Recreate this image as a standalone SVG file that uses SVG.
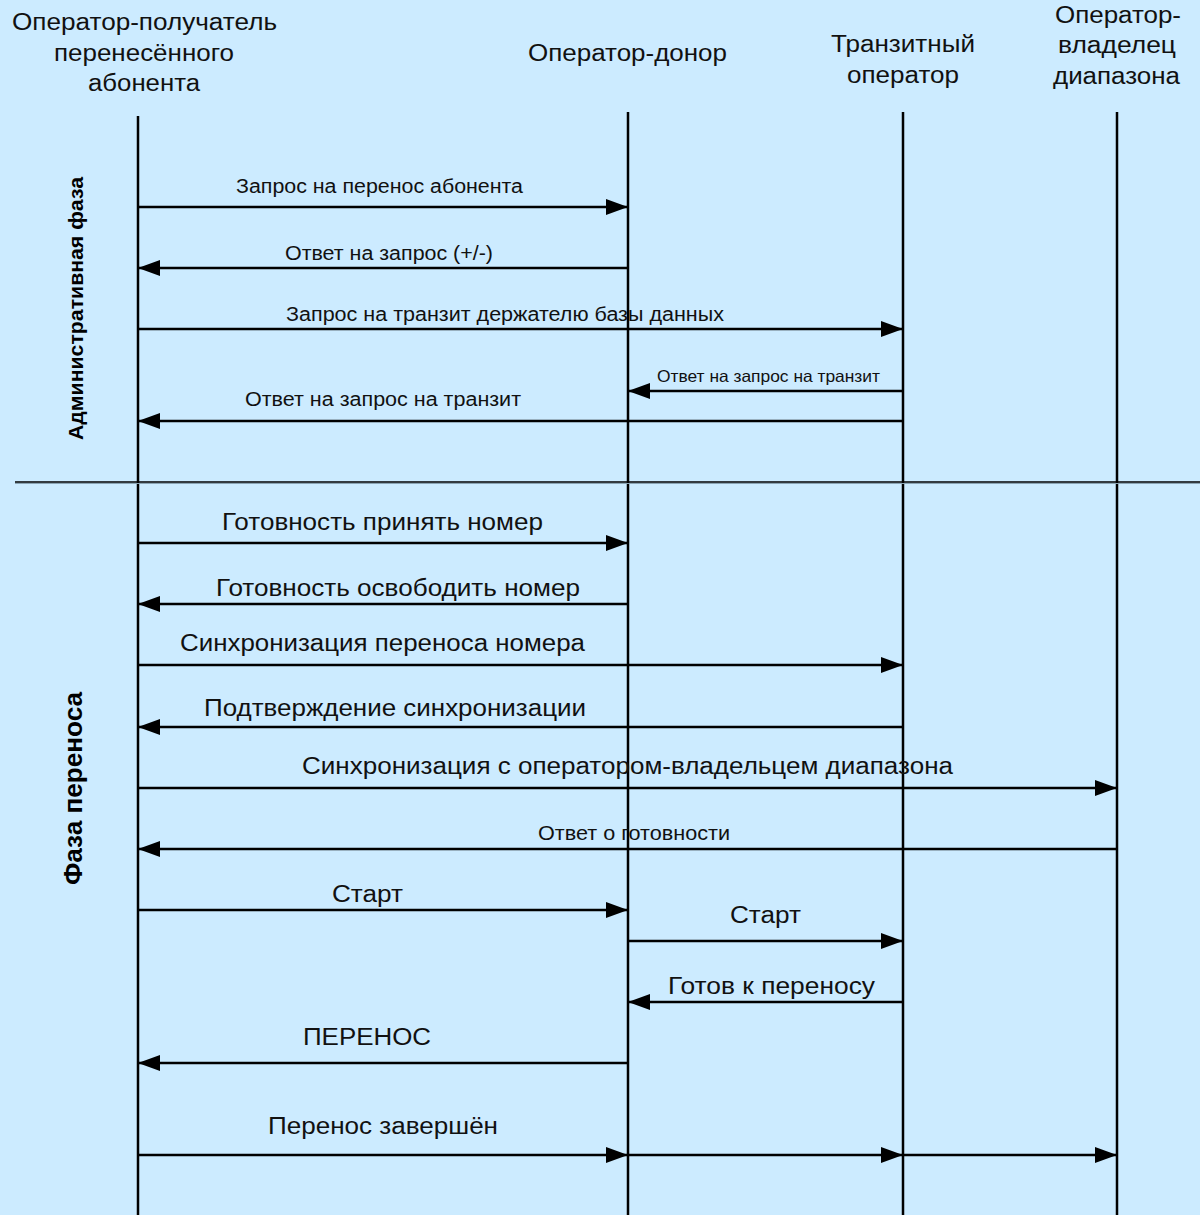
<svg xmlns="http://www.w3.org/2000/svg" width="1200" height="1215" viewBox="0 0 1200 1215">
  <style>
    text { font-family: "Liberation Sans", Arial, sans-serif; fill: #111; text-anchor: middle; }
    .hdr { font-size: 23px; }
    .msg { font-size: 19.5px; }
    .msg-l { font-size: 23.5px; }
    .msg-s { font-size: 16.5px; }
    .phase { font-weight: bold; fill: #000; }
    .life { stroke: #000; stroke-width: 2.5; fill: none; }
    .arrow { stroke: #000; stroke-width: 2.5; fill: none; marker-end: url(#head); }
  </style>
  <defs>
    <marker id="head" markerUnits="userSpaceOnUse" markerWidth="24" markerHeight="18" refX="22" refY="8" orient="auto">
      <path d="M0,0 L22,8 L0,16 z" fill="#000"/>
    </marker>
  </defs>

  <rect x="0" y="0" width="1200" height="1215" fill="#CCEBFF"/>

  <!-- participants with their lifelines -->
  <g id="recipient">
    <text class="hdr" x="144.5" y="30" textLength="265" lengthAdjust="spacingAndGlyphs">Оператор-получатель</text>
    <text class="hdr" x="144" y="61" textLength="180" lengthAdjust="spacingAndGlyphs">перенесённого</text>
    <text class="hdr" x="144" y="91" textLength="112" lengthAdjust="spacingAndGlyphs">абонента</text>
    <line class="life" x1="138" y1="116" x2="138" y2="1215"/>
  </g>
  <g id="donor">
    <text class="hdr" x="627.5" y="61" textLength="199" lengthAdjust="spacingAndGlyphs">Оператор-донор</text>
    <line class="life" x1="628" y1="112" x2="628" y2="1215"/>
  </g>
  <g id="transit">
    <text class="hdr" x="903" y="52" textLength="144" lengthAdjust="spacingAndGlyphs">Транзитный</text>
    <text class="hdr" x="903" y="83" textLength="112" lengthAdjust="spacingAndGlyphs">оператор</text>
    <line class="life" x1="903" y1="112" x2="903" y2="1215"/>
  </g>
  <g id="range-owner">
    <text class="hdr" x="1118" y="23" textLength="126" lengthAdjust="spacingAndGlyphs">Оператор-</text>
    <text class="hdr" x="1117" y="53" textLength="118" lengthAdjust="spacingAndGlyphs">владелец</text>
    <text class="hdr" x="1116.5" y="84" textLength="127" lengthAdjust="spacingAndGlyphs">диапазона</text>
    <line class="life" x1="1117" y1="112" x2="1117" y2="1215"/>
  </g>

  <!-- phase captions and the line between the phases -->
  <g id="phase-admin">
    <text class="phase" font-size="20" transform="translate(83,308.5) rotate(-90)" textLength="263" lengthAdjust="spacingAndGlyphs">Административная фаза</text>
  </g>
  <g id="phase-port">
    <text class="phase" font-size="26" transform="translate(82,788.5) rotate(-90)" textLength="193" lengthAdjust="spacingAndGlyphs">Фаза переноса</text>
  </g>
  <g id="divider">
    <line x1="15" y1="483.5" x2="1200" y2="483.5" stroke="#8aa4b4" stroke-width="1.2"/>
    <line x1="15" y1="482" x2="1200" y2="482" stroke="#000" stroke-width="1.3"/>
  </g>

  <!-- messages -->
  <g id="connectors">
    <line class="arrow" x1="138" y1="207" x2="628" y2="207"/>
    <line class="arrow" x1="628" y1="268" x2="138" y2="268"/>
    <line class="arrow" x1="138" y1="329" x2="903" y2="329"/>
    <line class="arrow" x1="903" y1="391" x2="628" y2="391"/>
    <line class="arrow" x1="903" y1="421" x2="138" y2="421"/>
    <line class="arrow" x1="138" y1="543" x2="628" y2="543"/>
    <line class="arrow" x1="628" y1="604" x2="138" y2="604"/>
    <line class="arrow" x1="138" y1="665" x2="903" y2="665"/>
    <line class="arrow" x1="903" y1="727" x2="138" y2="727"/>
    <line class="arrow" x1="138" y1="788" x2="1117" y2="788"/>
    <line class="arrow" x1="1117" y1="849" x2="138" y2="849"/>
    <line class="arrow" x1="138" y1="910" x2="628" y2="910"/>
    <line class="arrow" x1="628" y1="941" x2="903" y2="941"/>
    <line class="arrow" x1="903" y1="1002" x2="628" y2="1002"/>
    <line class="arrow" x1="628" y1="1063" x2="138" y2="1063"/>
    <line class="arrow" x1="138" y1="1155" x2="628" y2="1155"/>
    <line class="arrow" x1="628" y1="1155" x2="903" y2="1155"/>
    <line class="arrow" x1="903" y1="1155" x2="1117" y2="1155"/>
  </g>

  <g id="labels">
    <text class="msg" x="379.5" y="192.5" textLength="287" lengthAdjust="spacingAndGlyphs">Запрос на перенос абонента</text>
    <text class="msg" x="389" y="260" textLength="208" lengthAdjust="spacingAndGlyphs">Ответ на запрос (+/-)</text>
    <text class="msg" x="505" y="321" textLength="438" lengthAdjust="spacingAndGlyphs">Запрос на транзит держателю базы данных</text>
    <text class="msg-s" x="768.5" y="382" textLength="223" lengthAdjust="spacingAndGlyphs">Ответ на запрос на транзит</text>
    <text class="msg" x="383" y="406" textLength="276" lengthAdjust="spacingAndGlyphs">Ответ на запрос на транзит</text>
    <text class="msg-l" x="382.5" y="530" textLength="321" lengthAdjust="spacingAndGlyphs">Готовность принять номер</text>
    <text class="msg-l" x="398" y="596" textLength="364" lengthAdjust="spacingAndGlyphs">Готовность освободить номер</text>
    <text class="msg-l" x="382.5" y="651" textLength="405" lengthAdjust="spacingAndGlyphs">Синхронизация переноса номера</text>
    <text class="msg-l" x="395" y="716" textLength="382" lengthAdjust="spacingAndGlyphs">Подтверждение синхронизации</text>
    <text class="msg-l" x="627.5" y="774" textLength="651" lengthAdjust="spacingAndGlyphs">Синхронизация с оператором-владельцем диапазона</text>
    <text class="msg" x="634" y="840" textLength="192" lengthAdjust="spacingAndGlyphs">Ответ о готовности</text>
    <text class="msg-l" x="367.5" y="902" textLength="71" lengthAdjust="spacingAndGlyphs">Старт</text>
    <text class="msg-l" x="765.5" y="923" textLength="71" lengthAdjust="spacingAndGlyphs">Старт</text>
    <text class="msg-l" x="771.5" y="994" textLength="207" lengthAdjust="spacingAndGlyphs">Готов к переносу</text>
    <text class="msg-l" x="367" y="1045" textLength="128" lengthAdjust="spacingAndGlyphs">ПЕРЕНОС</text>
    <text class="msg-l" x="383" y="1134" textLength="230" lengthAdjust="spacingAndGlyphs">Перенос завершён</text>
  </g>
</svg>
